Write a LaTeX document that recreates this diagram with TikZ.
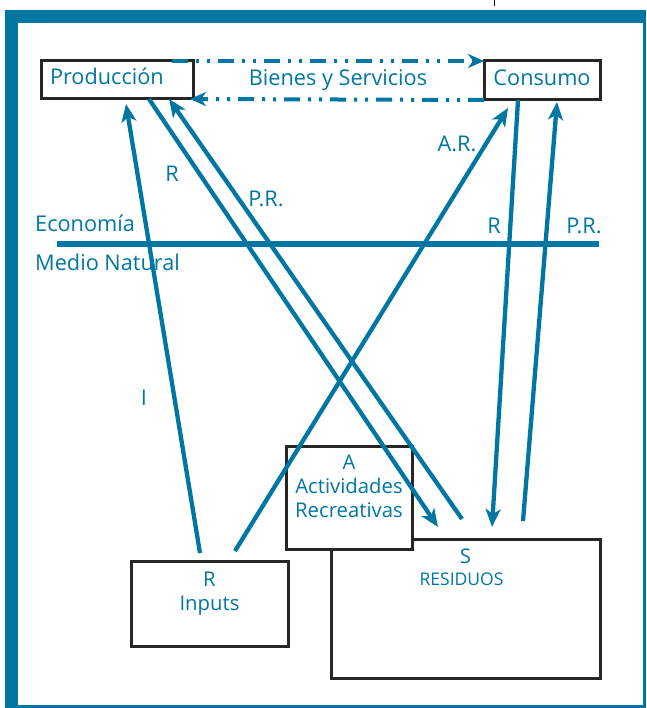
\documentclass[tikz,border=0pt]{standalone}
\usepackage{fontspec}
\setmainfont{Open Sans}
\usetikzlibrary{positioning,arrows.meta}
\definecolor{ecoblue}{RGB}{0,119,162}

\begin{document}
\begin{tikzpicture}[x=1pt,y=-1pt]
 \tikzset{box/.style={draw=black!85,line width=3pt,fill=white,inner sep=0pt,outer sep=0pt,anchor=north west},
  lbl/.style={text=ecoblue,font=\fontsize{21.7}{25}\selectfont,inner sep=0pt,align=center},
  boxtext/.style={lbl,font=\fontsize{20.3}{24}\selectfont},
  arrow/.style={ecoblue,line width=4.3pt,-{Stealth[length=18pt,width=15pt,inset=5pt]}},
  flow/.style={ecoblue,line width=4pt,dash pattern=on 16pt off 8pt on 3pt off 8pt on 3pt off 8pt,-{Stealth[length=16pt,width=14pt,inset=5pt]}}}
 \useasboundingbox (0,0) rectangle (646,708);
 \fill[ecoblue] (5,10) rectangle (646,708);
 \fill[white] (17.5,22.7) rectangle (642.7,705.3);
 \draw[line width=0.8pt] (494,0) -- (494,6);

 \node[box,minimum width=152pt,minimum height=38pt,text=ecoblue,font=\fontsize{21.7}{25}\selectfont,
   inner xsep=9pt,text width=134pt,align=left,text height=15pt,text depth=5pt] (prod) at (41,61) {Producción};
 \node[box,minimum width=116pt,minimum height=39pt,text=ecoblue,font=\fontsize{21.7}{25}\selectfont,
   text height=15pt,text depth=5pt] (cons) at (484,61) {Consumo};
 \node[box,minimum width=269pt,minimum height=139pt] (resid) at (331,539) {};
 \node[box,minimum width=126pt,minimum height=103pt] (recre) at (286,446) {};
 \node[box,minimum width=157pt,minimum height=85pt] (inp) at (131,561) {};

 \node[boxtext,below=10.7pt of inp.north] (inpT) {R\\Inputs};
 \node[boxtext,below=9pt of recre.north] (recreT) {A\\Actividades\\Recreativas};
 \node[boxtext,below=10pt of resid.north] (resS) {S};
 \node[boxtext,below=8.7pt of resS,xshift=-4pt,font=\fontsize{17.5}{21}\selectfont] (resL) {RESIDUOS};

 \node[lbl,anchor=base] (bys) at (338,85.5) {Bienes y Servicios};
 \node[lbl,anchor=base west] (eco) at (35,231.7) {Economía};
 \node[lbl,anchor=base west] (med) at (35,270) {Medio Natural};
 \draw[ecoblue,line width=6pt] (57,244) -- (599,244);

 \draw[flow] ([xshift=-21pt]prod.north east) -- (cons.north west);
 \draw[flow] (cons.south west) -- ([xshift=-3pt]prod.south east);

 \draw[arrow] ([xshift=-9.5pt,yshift=8pt]inp.north) to ([xshift=9pt,yshift=-5pt]prod.south);
 \draw[arrow] ([xshift=25.5pt,yshift=10pt]inp.north) to ([xshift=-34pt,yshift=-8pt]cons.south);
 \draw[arrow] ([xshift=-44pt]prod.south east) to ([xshift=-27.5pt,yshift=12pt]resid.north);
 \draw[arrow] ([xshift=-3.5pt,yshift=20pt]resid.north) to ([xshift=-24pt]prod.south east);
 \draw[arrow] ([xshift=-24pt]cons.south) to ([xshift=26.5pt,yshift=12pt]resid.north);
 \draw[arrow] ([xshift=57.5pt,yshift=18pt]resid.north) to ([xshift=15pt,yshift=-2pt]cons.south);

 \node[lbl,anchor=base] (lI) at (144,405.3) {I};
 \node[lbl,anchor=base] (lR) at (172,182) {R};
 \node[lbl,anchor=base] (lPR) at (266,207) {P.R.};
 \node[lbl,anchor=base] (lAR) at (457,152) {A.R.};
 \node[lbl,anchor=base] (lR2) at (494,234) {R};
 \node[lbl,anchor=base] (lPR2) at (584,234) {P.R.};
\end{tikzpicture}
\end{document}
